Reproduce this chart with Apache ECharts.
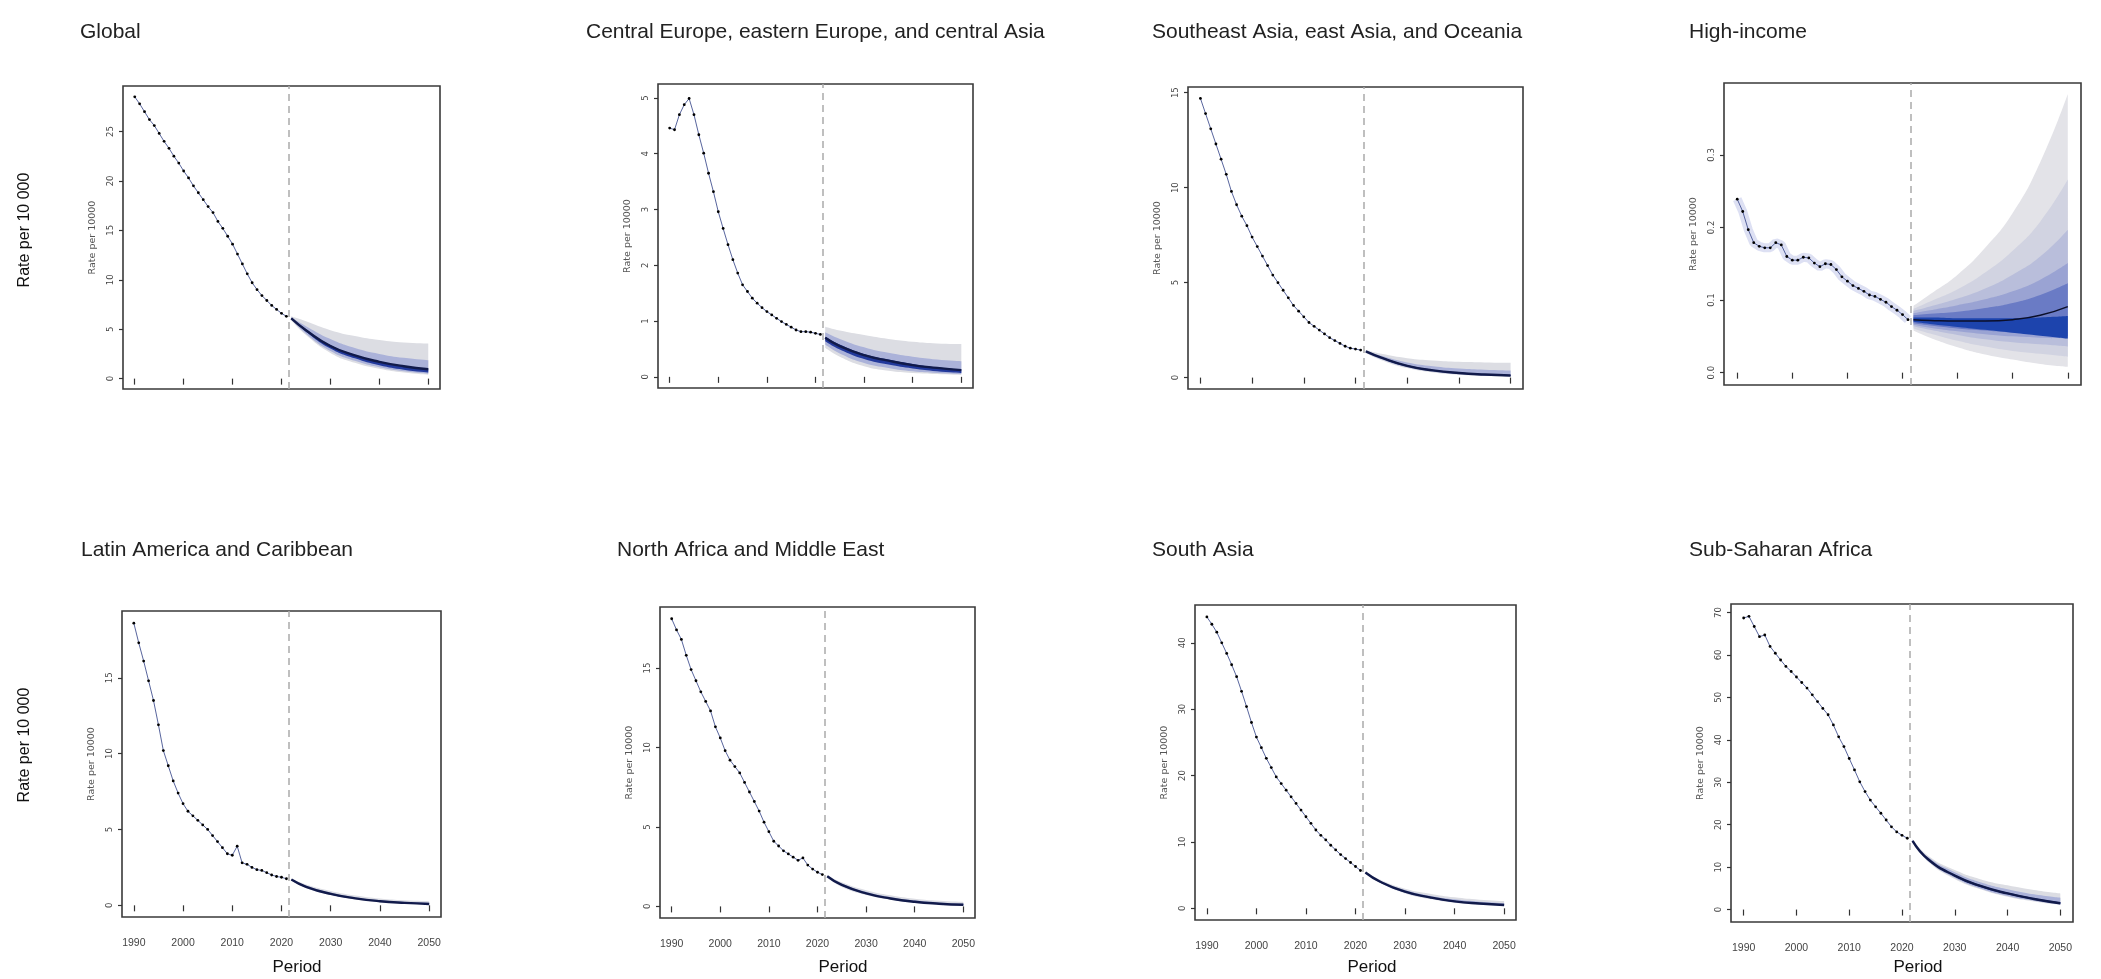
<!DOCTYPE html>
<html><head><meta charset="utf-8">
<script src="https://cdn.jsdelivr.net/npm/echarts@6/dist/echarts.min.js"></script>
<style>html,body{margin:0;padding:0;background:#fff}#c{width:2101px;height:979px}</style>
</head><body><div id="c"></div>
<script>
// ---------- DATA ----------
const xTicks = [1990, 2000, 2010, 2020, 2030, 2040, 2050];
const obsYears = [1990,1991,1992,1993,1994,1995,1996,1997,1998,1999,2000,2001,2002,2003,2004,2005,2006,2007,2008,2009,2010,2011,2012,2013,2014,2015,2016,2017,2018,2019,2020,2021];
const projYears = [2022, 2025, 2030, 2035, 2040, 2045, 2050];
const cutYear = 2021.5;

// Global
const globalTicks = [0, 5, 10, 15, 20, 25];
const globalObs = [28.5,27.8,27.0,26.2,25.6,24.8,24.0,23.3,22.5,21.8,21.0,20.3,19.5,18.8,18.1,17.4,16.8,15.9,15.2,14.4,13.6,12.6,11.6,10.6,9.7,9.0,8.4,7.9,7.4,7.0,6.6,6.3];
const globalMean = [6.1, 4.9, 3.3, 2.35, 1.7, 1.25, 0.95];
const globalHi1 = [6.3, 5.8, 4.9, 4.3, 3.9, 3.65, 3.55];
const globalLo1 = [5.9, 4.4, 2.6, 1.6, 1.0, 0.62, 0.4];
const globalHi2 = [6.2, 5.3, 4.0, 3.1, 2.5, 2.1, 1.85];
const globalLo2 = [6.0, 4.55, 2.8, 1.8, 1.15, 0.75, 0.5];
const globalHi3 = [6.15, 5.0, 3.4, 2.42, 1.75, 1.28, 1.0];
const globalLo3 = [6.05, 4.75, 3.05, 2.05, 1.35, 0.9, 0.62];

// Central Europe, eastern Europe, and central Asia
const ceeTicks = [0, 1, 2, 3, 4, 5];
const ceeObs = [4.46,4.43,4.70,4.88,4.99,4.70,4.34,4.01,3.65,3.32,2.96,2.66,2.37,2.10,1.86,1.65,1.53,1.41,1.32,1.24,1.17,1.11,1.05,0.99,0.94,0.89,0.84,0.81,0.81,0.80,0.78,0.76];
const ceeMean = [0.70, 0.55, 0.39, 0.29, 0.21, 0.16, 0.12];
const ceeHi1 = [0.90, 0.83, 0.75, 0.68, 0.63, 0.60, 0.59];
const ceeLo1 = [0.52, 0.36, 0.19, 0.11, 0.07, 0.05, 0.03];
const ceeHi2 = [0.80, 0.68, 0.53, 0.43, 0.36, 0.31, 0.28];
const ceeLo2 = [0.58, 0.42, 0.25, 0.16, 0.10, 0.07, 0.05];
const ceeHi3 = [0.72, 0.58, 0.41, 0.31, 0.23, 0.17, 0.13];
const ceeLo3 = [0.64, 0.49, 0.32, 0.22, 0.15, 0.10, 0.07];

// Southeast Asia, east Asia, and Oceania
const seaTicks = [0, 5, 10, 15];
const seaObs = [14.7,13.9,13.1,12.3,11.5,10.7,9.8,9.1,8.5,8.0,7.4,6.9,6.4,5.9,5.4,5.0,4.6,4.2,3.8,3.5,3.2,2.9,2.7,2.5,2.3,2.1,1.95,1.8,1.65,1.55,1.5,1.45];
const seaMean = [1.38, 1.05, 0.62, 0.38, 0.24, 0.16, 0.11];
const seaHi1 = [1.45, 1.25, 1.02, 0.90, 0.83, 0.80, 0.78];
const seaLo1 = [1.30, 0.92, 0.50, 0.27, 0.15, 0.08, 0.05];
const seaHi2 = [1.42, 1.15, 0.80, 0.60, 0.48, 0.42, 0.38];
const seaLo2 = [1.33, 0.96, 0.54, 0.31, 0.18, 0.11, 0.07];
const seaHi3 = [1.40, 1.08, 0.66, 0.42, 0.28, 0.19, 0.14];
const seaLo3 = [1.36, 1.01, 0.58, 0.35, 0.21, 0.13, 0.09];

// High-income
const hiTicks = [0.0, 0.1, 0.2, 0.3];
const hiObs = [0.239,0.222,0.197,0.179,0.174,0.172,0.172,0.179,0.176,0.160,0.155,0.155,0.159,0.158,0.151,0.146,0.150,0.149,0.142,0.132,0.126,0.120,0.116,0.112,0.107,0.105,0.101,0.097,0.091,0.086,0.080,0.073];
const hiMean = [0.073, 0.072, 0.071, 0.071, 0.073, 0.079, 0.091];
const hiHi1 = [0.092, 0.108, 0.135, 0.172, 0.220, 0.290, 0.384];
const hiLo1 = [0.058, 0.048, 0.035, 0.025, 0.018, 0.012, 0.008];
const hiHi2 = [0.088, 0.098, 0.115, 0.138, 0.168, 0.208, 0.266];
const hiLo2 = [0.061, 0.054, 0.044, 0.036, 0.030, 0.026, 0.022];
const hiHi3 = [0.085, 0.091, 0.102, 0.116, 0.135, 0.160, 0.197];
const hiLo3 = [0.064, 0.059, 0.052, 0.046, 0.042, 0.039, 0.036];
const hiHi4 = [0.082, 0.086, 0.093, 0.101, 0.112, 0.128, 0.151];
const hiLo4 = [0.066, 0.062, 0.057, 0.053, 0.050, 0.048, 0.047];
const hiHi5 = [0.079, 0.081, 0.084, 0.089, 0.096, 0.107, 0.123];
const hiLo5 = [0.068, 0.065, 0.061, 0.058, 0.055, 0.052, 0.050];
const hiHi6 = [0.076, 0.076, 0.075, 0.075, 0.075, 0.076, 0.078];
const hiLo6 = [0.070, 0.067, 0.063, 0.059, 0.055, 0.051, 0.047];

// Latin America and Caribbean
const latTicks = [0, 5, 10, 15];
const latObs = [18.6,17.3,16.1,14.8,13.5,11.9,10.2,9.2,8.2,7.4,6.7,6.2,5.9,5.6,5.3,5.0,4.6,4.2,3.8,3.4,3.3,3.9,2.8,2.7,2.5,2.35,2.3,2.15,2.0,1.9,1.85,1.75];
const latMean = [1.70, 1.22, 0.75, 0.46, 0.27, 0.16, 0.09];
const latHi1 = [1.75, 1.38, 0.95, 0.65, 0.45, 0.33, 0.27];
const latLo1 = [1.65, 1.12, 0.66, 0.38, 0.20, 0.11, 0.05];
const latHi2 = [1.73, 1.30, 0.84, 0.54, 0.35, 0.23, 0.17];
const latLo2 = [1.67, 1.16, 0.70, 0.41, 0.23, 0.13, 0.07];
const latHi3 = [1.71, 1.25, 0.78, 0.49, 0.30, 0.18, 0.11];
const latLo3 = [1.69, 1.19, 0.72, 0.43, 0.25, 0.14, 0.08];

// North Africa and Middle East
const nafTicks = [0, 5, 10, 15];
const nafObs = [18.1,17.4,16.8,15.8,14.9,14.2,13.5,12.9,12.3,11.3,10.6,9.8,9.2,8.8,8.4,7.8,7.2,6.6,6.0,5.3,4.7,4.1,3.8,3.5,3.3,3.1,2.9,3.05,2.6,2.35,2.15,2.0];
const nafMean = [1.90, 1.35, 0.82, 0.50, 0.29, 0.17, 0.10];
const nafHi1 = [1.95, 1.52, 1.02, 0.70, 0.48, 0.35, 0.28];
const nafLo1 = [1.85, 1.22, 0.72, 0.42, 0.22, 0.12, 0.06];
const nafHi2 = [1.93, 1.44, 0.92, 0.59, 0.38, 0.25, 0.18];
const nafLo2 = [1.87, 1.28, 0.76, 0.45, 0.25, 0.14, 0.08];
const nafHi3 = [1.91, 1.39, 0.86, 0.53, 0.32, 0.19, 0.12];
const nafLo3 = [1.89, 1.31, 0.79, 0.47, 0.27, 0.15, 0.09];

// South Asia
const saTicks = [0, 10, 20, 30, 40];
const saObs = [43.9,42.8,41.6,40.0,38.4,36.7,34.9,32.7,30.4,28.0,25.8,24.2,22.6,21.2,19.8,18.8,17.8,16.8,15.8,14.8,13.8,12.8,11.8,11.0,10.3,9.5,8.8,8.1,7.5,6.9,6.3,5.7];
const saMean = [5.4, 4.0, 2.5, 1.65, 1.05, 0.72, 0.5];
const saHi1 = [5.5, 4.3, 2.95, 2.2, 1.65, 1.3, 1.1];
const saLo1 = [5.3, 3.8, 2.25, 1.4, 0.85, 0.55, 0.35];
const saHi2 = [5.45, 4.15, 2.75, 1.9, 1.35, 1.0, 0.8];
const saLo2 = [5.35, 3.85, 2.35, 1.5, 0.92, 0.6, 0.4];
const saHi3 = [5.42, 4.05, 2.58, 1.73, 1.13, 0.79, 0.57];
const saLo3 = [5.38, 3.93, 2.42, 1.57, 0.98, 0.66, 0.45];

// Sub-Saharan Africa
const ssaTicks = [0, 10, 20, 30, 40, 50, 60, 70];
const ssaObs = [68.7,69.1,66.7,64.3,64.7,62.0,60.4,58.8,57.3,56.1,54.8,53.5,52.2,50.6,49.0,47.4,45.9,43.5,40.7,38.4,35.6,32.9,30.1,27.8,25.8,24.2,22.7,21.1,19.5,18.3,17.5,16.8];
const ssaMean = [16.2, 11.8, 8.0, 5.5, 3.8, 2.5, 1.5];
const ssaHi1 = [16.6, 12.6, 9.3, 7.1, 5.7, 4.6, 3.8];
const ssaLo1 = [15.8, 11.2, 7.2, 4.7, 3.0, 1.9, 1.1];
const ssaHi2 = [16.4, 12.3, 8.8, 6.4, 4.8, 3.6, 2.8];
const ssaLo2 = [16.0, 11.4, 7.5, 4.9, 3.2, 2.1, 1.2];
const ssaHi3 = [16.3, 12.0, 8.2, 5.75, 4.0, 2.7, 1.7];
const ssaLo3 = [16.1, 11.6, 7.8, 5.25, 3.6, 2.3, 1.3];

// ---------- PANELS ----------
const panels = [
  {title:'Global', obs:globalObs, mean:globalMean, ticks:globalTicks, bands:[[globalLo1,globalHi1],[globalLo2,globalHi2],[globalLo3,globalHi3]]},
  {title:'Central Europe, eastern Europe, and central Asia', obs:ceeObs, mean:ceeMean, ticks:ceeTicks, bands:[[ceeLo1,ceeHi1],[ceeLo2,ceeHi2],[ceeLo3,ceeHi3]]},
  {title:'Southeast Asia, east Asia, and Oceania', obs:seaObs, mean:seaMean, ticks:seaTicks, bands:[[seaLo1,seaHi1],[seaLo2,seaHi2],[seaLo3,seaHi3]]},
  {title:'High-income', obs:hiObs, mean:hiMean, ticks:hiTicks, dec:1, glow:true, bands:[[hiLo1,hiHi1],[hiLo2,hiHi2],[hiLo3,hiHi3],[hiLo4,hiHi4],[hiLo5,hiHi5],[hiLo6,hiHi6]]},
  {title:'Latin America and Caribbean', obs:latObs, mean:latMean, ticks:latTicks, bands:[[latLo1,latHi1],[latLo2,latHi2],[latLo3,latHi3]]},
  {title:'North Africa and Middle East', obs:nafObs, mean:nafMean, ticks:nafTicks, bands:[[nafLo1,nafHi1],[nafLo2,nafHi2],[nafLo3,nafHi3]]},
  {title:'South Asia', obs:saObs, mean:saMean, ticks:saTicks, bands:[[saLo1,saHi1],[saLo2,saHi2],[saLo3,saHi3]]},
  {title:'Sub-Saharan Africa', obs:ssaObs, mean:ssaMean, ticks:ssaTicks, bands:[[ssaLo1,ssaHi1],[ssaLo2,ssaHi2],[ssaLo3,ssaHi3]]}
];

// layout (pixel boxes and axis extents)
const boxes = [
  {l:123, t:86,  w:317, h:303, ymin:-1.05, ymax:29.6, tl:80,   tt:22},
  {l:658, t:84,  w:315, h:304, ymin:-0.2,  ymax:5.25, tl:586,  tt:22},
  {l:1188,t:87,  w:335, h:302, ymin:-0.6,  ymax:15.3, tl:1152, tt:22},
  {l:1724,t:83,  w:357, h:302, ymin:-0.017,ymax:0.399,tl:1689, tt:22},
  {l:122, t:611, w:319, h:306, ymin:-0.77, ymax:19.4, tl:81,   tt:540},
  {l:660, t:607, w:315, h:311, ymin:-0.73, ymax:18.84,tl:617,  tt:540},
  {l:1195,t:605, w:321, h:315, ymin:-1.76, ymax:45.7, tl:1152, tt:540},
  {l:1731,t:604, w:342, h:318, ymin:-2.93, ymax:72.0, tl:1689, tt:540}
];

const col3 = ['#dcdde3', '#abb2d9', '#22399c'];
const col6 = ['#e3e3e8', '#d1d3e1', '#b9bedb', '#9aa3d3', '#6a7bc5', '#1d44ad'];

const pair = (xs, ys) => xs.map((x, i) => [x, ys[i]]);
// value first, year second (so the stack runs on the value dimension)
const vpair = (xs, ys) => xs.map((x, i) => [ys[i], x]);

const grids = [], xAxes = [], yAxes = [], series = [], titles = [];
panels.forEach((p, i) => {
  const b = boxes[i];
  const row2 = i >= 4;
  grids.push({left:b.l, top:b.t, width:b.w, height:b.h, show:true, borderColor:'#3a3a3a', borderWidth:1.6, backgroundColor:'#fff', containLabel:false});
  xAxes.push({
    gridIndex:i, type:'value', min:1987.6, max:2052.4, offset:2,
    axisLine:{show:false}, splitLine:{show:false},
    axisTick:{show:true, length:6, customValues:xTicks, lineStyle:{color:'#333', width:1.2}},
    axisLabel:{show:row2, customValues:xTicks, margin:19, fontSize:10.5, color:'#444', fontFamily:'Liberation Sans Narrow, Liberation Sans',
      formatter: v => String(Math.round(v))}
  });
  yAxes.push({
    gridIndex:i, type:'value', min:b.ymin, max:b.ymax,
    axisLine:{show:false}, splitLine:{show:false},
    axisTick:{show:true, length:4, customValues:p.ticks, lineStyle:{color:'#333', width:1.2}},
    axisLabel:{customValues:p.ticks, rotate:90, margin:8, fontSize:8.5, color:'#444', fontFamily:'DejaVu Sans',
      formatter: v => p.dec ? v.toFixed(p.dec) : String(Math.round(v))},
    name:'Rate per 10000', nameLocation:'middle', nameGap:25, nameRotate:90,
    nameTextStyle:{fontSize:9.5, color:'#555', fontFamily:'DejaVu Sans'}
  });
  titles.push({text:p.title, left:b.tl, top:b.tt, padding:0, textStyle:{fontSize:21, fontWeight:'normal', color:'#222', fontFamily:'Liberation Sans'}});

  const cols = p.bands.length === 6 ? col6 : col3;
  p.bands.forEach((bd, k) => {
    const lo = bd[0], hi = bd[1];
    const st = 'p' + i + 'b' + k;
    series.push({type:'line', xAxisIndex:i, yAxisIndex:i, stack:st, smooth:true, symbol:'none', silent:true,
      encode:{x:1, y:0}, lineStyle:{width:0, opacity:0}, data:vpair(projYears, lo), z:2});
    series.push({type:'line', xAxisIndex:i, yAxisIndex:i, stack:st, smooth:true, symbol:'none', silent:true,
      encode:{x:1, y:0}, lineStyle:{width:0, opacity:0}, areaStyle:{color:cols[k], opacity:1},
      data:vpair(projYears, hi.map((h, j) => h - lo[j])), z:2});
  });
  if (p.glow) {
    series.push({type:'line', xAxisIndex:i, yAxisIndex:i, symbol:'none', silent:true,
      lineStyle:{width:9, color:'rgba(100,115,200,0.22)'}, data:pair(obsYears, p.obs), z:3});
  }
  series.push({type:'line', xAxisIndex:i, yAxisIndex:i, symbol:'circle', symbolSize:2.8, showSymbol:true, silent:true,
    itemStyle:{color:'#000'}, lineStyle:{width:1, color:'#3b4a8c', opacity:0.85}, data:pair(obsYears, p.obs), z:4});
  series.push({type:'line', xAxisIndex:i, yAxisIndex:i, smooth:true, symbol:'none', silent:true,
    lineStyle:{width:p.glow ? 1.5 : 2.4, color:p.glow ? '#0b0f2a' : '#111a4a'}, data:pair(projYears, p.mean), z:5,
    markLine:{silent:true, symbol:'none', label:{show:false}, lineStyle:{type:[7,5], color:'#ababab', width:1.5},
      data:[{xAxis:cutYear}]}});
});

const graphics = [];
[230, 745].forEach(y => graphics.push({type:'text', x:25, y:y, rotation:Math.PI/2,
  style:{text:'Rate per 10 000', fontSize:16, fill:'#111', fontFamily:'Liberation Sans', align:'center', verticalAlign:'middle'}}));
[297, 843, 1372, 1918].forEach(x => graphics.push({type:'text', x:x, y:967,
  style:{text:'Period', fontSize:17, fill:'#111', fontFamily:'Liberation Sans', align:'center', verticalAlign:'middle'}}));

const chart = echarts.init(document.getElementById('c'));
chart.setOption({
  animation:false, backgroundColor:'#fff',
  title:titles, grid:grids, xAxis:xAxes, yAxis:yAxes, series:series, graphic:graphics
});
</script></body></html>
